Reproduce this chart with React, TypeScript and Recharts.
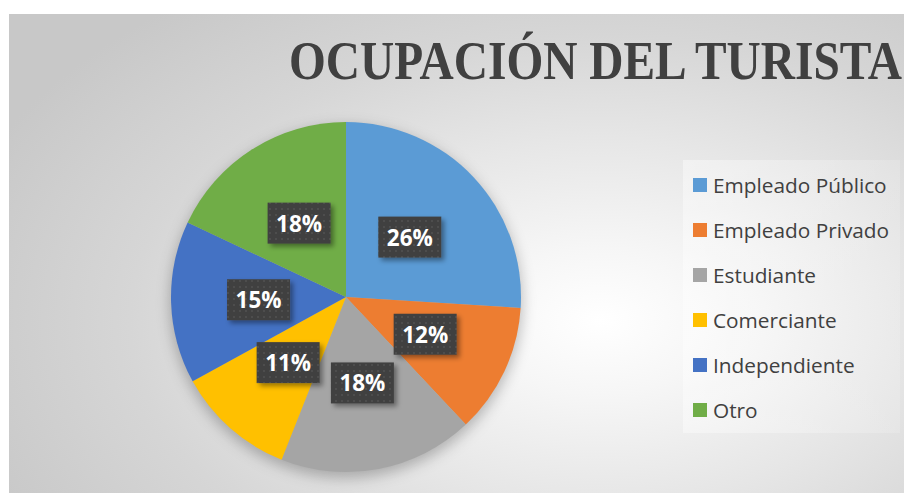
import React from "react";
import { PieChart, Pie, Cell, Legend } from "recharts";

const categories = [
  "Empleado Público",
  "Empleado Privado",
  "Estudiante",
  "Comerciante",
  "Independiente",
  "Otro",
];
const values = [26, 12, 18, 11, 15, 18];
const colors = ["#5B9BD5", "#ED7D31", "#A5A5A5", "#FFC000", "#4472C4", "#70AD47"];
const title = "OCUPACIÓN DEL TURISTA";

const data = categories.map((name, i) => ({ name, value: values[i] }));
const shadowData = [{ name: "shadow", value: 1 }];

const RAD = Math.PI / 180;

const renderLabel = (props: any) => {
  const { cx, cy, midAngle, outerRadius, value } = props;
  const r = outerRadius * 0.5;
  const x = cx + r * Math.cos(-midAngle * RAD);
  const y = cy + r * Math.sin(-midAngle * RAD);
  const w = 63;
  const h = 41;
  return (
    <g>
      <rect
        x={x - w / 2}
        y={y - h / 2}
        width={w}
        height={h}
        fill="url(#dotPattern)"
        filter="url(#labelShadow)"
      />
      <text
        x={x}
        y={y}
        textAnchor="middle"
        dominantBaseline="central"
        fill="#ffffff"
        fontFamily="'Open Sans', sans-serif"
        fontWeight={700}
        fontSize={22.5}
      >
        {value}%
      </text>
    </g>
  );
};

const LegendBox = () => (
  <div
    style={{
      width: 217,
      height: 273,
      background: "linear-gradient(90deg, rgba(255,255,255,0.4), rgba(255,255,255,0.15))",
      boxSizing: "border-box",
      paddingTop: 2,
      paddingLeft: 10,
    }}
  >
    {categories.map((c, i) => (
      <div key={c} style={{ display: "flex", alignItems: "center", height: 45 }}>
        <div style={{ width: 14, height: 14, background: colors[i], marginRight: 6, flexShrink: 0 }} />
        <span
          style={{
            fontFamily: "'Open Sans', sans-serif",
            fontSize: 20.8,
            color: "#404040",
            lineHeight: "20px",
            whiteSpace: "nowrap",
          }}
        >
          {c}
        </span>
      </div>
    ))}
  </div>
);

export default function App() {
  return (
    <div style={{ position: "absolute", left: 0, top: 0, width: 904, height: 493, overflow: "hidden", background: "#fff" }}>
      <svg width={0} height={0} style={{ position: "absolute" }}>
        <defs>
          <pattern id="dotPattern" x={0} y={0} width={6} height={6} patternUnits="userSpaceOnUse">
            <rect x={0} y={0} width={6} height={6} fill="#404040" />
            <rect x={2} y={2} width={2} height={2} fill="#4d4d4d" />
          </pattern>
          <filter id="labelShadow" x="-30%" y="-30%" width="160%" height="160%">
            <feDropShadow dx={3} dy={3} stdDeviation={2.5} floodColor="#000" floodOpacity={0.4} />
          </filter>
          <filter id="pieShadow" x="-20%" y="-20%" width="140%" height="140%">
            <feGaussianBlur stdDeviation={7} />
          </filter>
        </defs>
      </svg>
      <div
        style={{
          position: "absolute",
          left: 9,
          top: 14,
          width: 895,
          height: 479,
          overflow: "hidden",
          background:
            "radial-gradient(ellipse 75% 85% at 66% 64%, #ffffff 0%, #f6f6f6 18%, #e6e6e6 45%, #d6d6d6 70%, #c8c8c8 100%)",
        }}
      >
        <svg width={895} height={479} style={{ position: "absolute", left: 0, top: 0 }}>
          <text
            x={280}
            y={65}
            fontFamily="'Liberation Serif', 'Times New Roman', serif"
            fontWeight={700}
            fontSize={55}
            fill="#404040"
            textLength={613}
            lengthAdjust="spacingAndGlyphs"
          >
            {title}
          </text>
        </svg>
        <div style={{ position: "absolute", left: 0, top: 0 }}>
          <PieChart width={895} height={479} margin={{ top: 0, right: 0, bottom: 0, left: 0 }}>
            <Pie
              data={shadowData}
              dataKey="value"
              cx={337}
              cy={288}
              outerRadius={176}
              startAngle={90}
              endAngle={-270}
              fill="#000"
              fillOpacity={0.25}
              stroke="none"
              isAnimationActive={false}
              style={{ filter: "url(#pieShadow)" }}
              legendType="none"
            />
            <Pie
              data={data}
              dataKey="value"
              nameKey="name"
              cx={337}
              cy={283}
              outerRadius={175}
              startAngle={90}
              endAngle={-270}
              stroke="none"
              label={renderLabel}
              labelLine={false}
              isAnimationActive={false}
            >
              {data.map((d, i) => (
                <Cell key={d.name} fill={colors[i]} />
              ))}
            </Pie>
            <Legend
              content={() => <LegendBox />}
              wrapperStyle={{ position: "absolute", left: 674, top: 146, width: 217, height: 273 }}
            />
          </PieChart>
        </div>
      </div>
    </div>
  );
}
